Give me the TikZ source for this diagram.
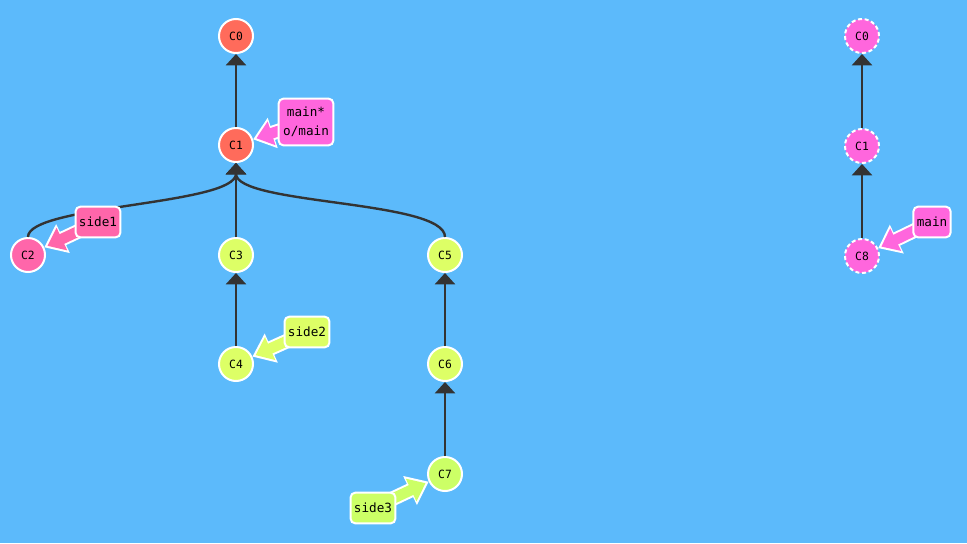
\documentclass[tikz,border=0pt]{standalone}
\usepackage{fontspec}
\setmonofont{DejaVu Sans Mono}
\usetikzlibrary{arrows.meta}

\definecolor{gitSky}{HTML}{5CBAFB}
\definecolor{gitRed}{HTML}{FF6B5B}
\definecolor{gitRose}{HTML}{FF66AA}
\definecolor{gitOrchid}{HTML}{FF66DD}
\definecolor{gitLime}{HTML}{DDFF66}
\definecolor{gitGreen}{HTML}{CCFF66}
\definecolor{gitInk}{HTML}{333333}

\tikzset{
  commitNode/.style={circle,draw=white,line width=1.5pt,fill=#1,minimum size=25.5pt,inner sep=0pt,font=\ttfamily\fontsize{8.5}{9}\selectfont},
  ghostNode/.style={commitNode=#1,dash pattern=on 3pt off 2pt},
  branchLabel/.style={draw=white,line width=1.5pt,fill=#1,rounded corners=3.5pt,inner sep=2.5pt,minimum height=23pt,align=center,font=\ttfamily\fontsize{9.5}{14}\selectfont},
  parentEdge/.style={draw=gitInk,line width=1.8pt,-{Triangle[length=8.5pt,width=15pt]}},
  labelHalo/.style={draw=white,line width=11pt,-{Triangle[length=15.5pt,width=23pt]}},
  labelShaft/.style={draw=#1,line width=8pt,shorten >=2.6pt,-{Triangle[length=12pt,width=18pt]}}
}
\newcommand{\branchArrow}[3]{%
  \draw[labelHalo] (#1.center) -- (#2);
  \draw[labelShaft=#3] (#1.center) -- (#2);
}

\begin{document}
\begin{tikzpicture}[x=0.75pt,y=-0.75pt]
  \fill[gitSky] (0,0) rectangle (967,543);
  \useasboundingbox (0,0) rectangle (967,543);

  \node[commitNode=gitRed] (c0) at (236,36) {C0};
  \node[commitNode=gitRed] (c1) at (236,145) {C1};
  \node[commitNode=gitRose] (c2) at (28,255) {C2};
  \node[commitNode=gitLime] (c3) at (236,255) {C3};
  \node[commitNode=gitLime] (c4) at (236,364) {C4};
  \node[commitNode=gitLime] (c5) at (445,255) {C5};
  \node[commitNode=gitLime] (c6) at (445,364) {C6};
  \node[commitNode=gitGreen] (c7) at (445,474) {C7};

  \draw[parentEdge] (c1) -- (c0);
  \draw[parentEdge] (c2.north) .. controls (28,205) and (236,205) .. (c1.south);
  \draw[parentEdge] (c3) -- (c1);
  \draw[parentEdge] (c5.north) .. controls (445,200) and (236,205) .. (c1.south);
  \draw[parentEdge] (c4) -- (c3);
  \draw[parentEdge] (c6) -- (c5);
  \draw[parentEdge] (c7) -- (c6);

  \node[ghostNode=gitOrchid] (r0) at (862,36) {C0};
  \node[ghostNode=gitOrchid] (r1) at (862,146) {C1};
  \node[ghostNode=gitOrchid] (r8) at (862,256) {C8};
  \draw[parentEdge] (r1) -- (r0);
  \draw[parentEdge] (r8) -- (r1);

  \coordinate (mainPos) at (306,122);
  \coordinate (side1Pos) at (98,222);
  \coordinate (side2Pos) at (307,332);
  \coordinate (side3Pos) at (373,508);
  \coordinate (remotePos) at (932,222);
  \branchArrow{mainPos}{c1}{gitOrchid}
  \branchArrow{side1Pos}{c2}{gitRose}
  \branchArrow{side2Pos}{c4}{gitLime}
  \branchArrow{side3Pos}{c7}{gitGreen}
  \branchArrow{remotePos}{r8}{gitOrchid}

  \node[branchLabel=gitOrchid,minimum height=35pt,minimum width=41pt] (mainTag) at (mainPos) {main*\\o/main};
  \node[branchLabel=gitRose] (side1Tag) at (side1Pos) {side1};
  \node[branchLabel=gitLime] (side2Tag) at (side2Pos) {side2};
  \node[branchLabel=gitGreen] (side3Tag) at (side3Pos) {side3};
  \node[branchLabel=gitOrchid] (remoteTag) at (remotePos) {main};
\end{tikzpicture}
\end{document}
